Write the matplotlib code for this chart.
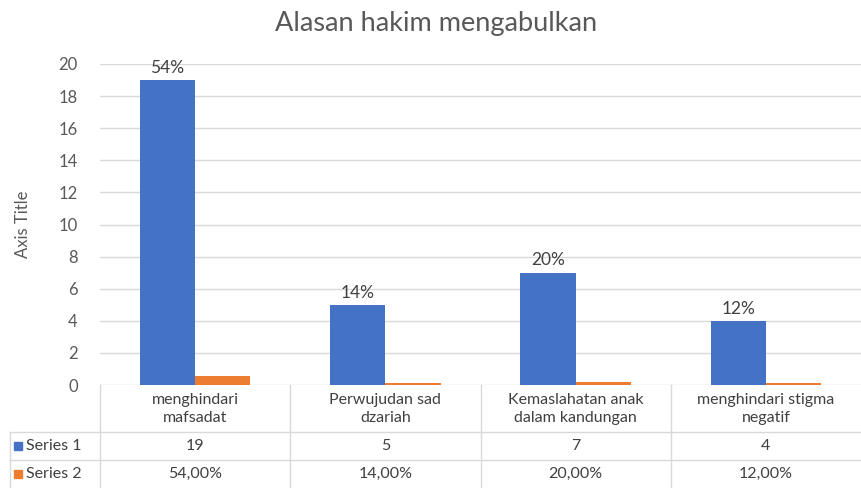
import matplotlib
matplotlib.use("Agg")
import matplotlib.pyplot as plt
from matplotlib.patches import Rectangle
from matplotlib.lines import Line2D

categories = ["menghindari\nmafsadat", "Perwujudan sad\ndzariah",
              "Kemaslahatan anak\ndalam kandungan", "menghindari stigma\nnegatif"]
series1 = [19, 5, 7, 4]
series2 = [0.54, 0.14, 0.20, 0.12]
series_names = ["Series 1", "Series 2"]
bar_labels = ["54%", "14%", "20%", "12%"]
s2_table = ["54,00%", "14,00%", "20,00%", "12,00%"]
title = "Alasan hakim mengabulkan"
ylabel = "Axis Title"

plt.rcParams['font.family'] = ['Lato', 'DejaVu Sans']

W, H = 861, 488
fig = plt.figure(figsize=(W/100, H/100), dpi=100)

def fx(px): return px / W
def fy(py): return 1 - py / H

blue = "#4472C4"
orange = "#ED7D31"
grid = "#d9d9d9"
txt = "#595959"
dark = "#404040"

ax = fig.add_axes([fx(100), fy(385), fx(861) - fx(100), fy(64) - fy(385)])
n = len(categories)
xs = list(range(n))
w = 0.29
ax.bar([x - w/2 for x in xs], series1, width=w, color=blue, zorder=3)
ax.bar([x + w/2 for x in xs], series2, width=w, color=orange, zorder=3)
for x, v, lab in zip(xs, series1, bar_labels):
    ax.annotate(lab, (x - w/2, v), xytext=(0, 3), textcoords="offset points",
                ha="center", va="bottom", fontsize=12.5, color=dark)
ax.set_xlim(-0.5, n - 0.5)
ax.set_ylim(0, 20)
ax.set_yticks(range(0, 21, 2))
ax.yaxis.grid(True, color=grid, linewidth=1, zorder=0)
ax.set_xticks([])
for s in ax.spines.values():
    s.set_visible(False)
ax.tick_params(axis="y", length=0, labelsize=12, labelcolor=txt, pad=16)
ax.set_ylabel(ylabel, fontsize=12, color=txt, labelpad=20)

fig.text(fx(436), fy(24), title, ha="center", va="center", fontsize=19.5, color=txt)

# data table
def hline(y, x0, x1):
    fig.add_artist(Line2D([fx(x0), fx(x1)], [fy(y), fy(y)], color=grid, lw=1))
def vline(x, y0, y1):
    fig.add_artist(Line2D([fx(x), fx(x)], [fy(y0), fy(y1)], color=grid, lw=1))

hline(432, 10, 861)
hline(460, 10, 861)
vline(10, 432, 488)
for i in range(n):
    vline(100 + 190.25 * i, 385, 488)

col_w = (861 - 100) / n
for i in range(n):
    cx = 100 + col_w * (i + 0.5)
    fig.text(fx(cx), fy(409), categories[i], ha="center", va="center",
             fontsize=11.5, color=dark, linespacing=1.45)
    fig.text(fx(cx), fy(446), str(series1[i]), ha="center", va="center",
             fontsize=11.5, color=dark)
    fig.text(fx(cx), fy(474), s2_table[i], ha="center", va="center",
             fontsize=11.5, color=dark)

for name, col, y in zip(series_names, [blue, orange], [446, 474]):
    fig.add_artist(Rectangle((fx(14), fy(y + 4)), fx(8), fy(y - 4) - fy(y + 4),
                             color=col, transform=fig.transFigure))
    fig.text(fx(26), fy(y), name, ha="left", va="center", fontsize=11.5, color=dark)

fig.savefig("out.png", dpi=100)
